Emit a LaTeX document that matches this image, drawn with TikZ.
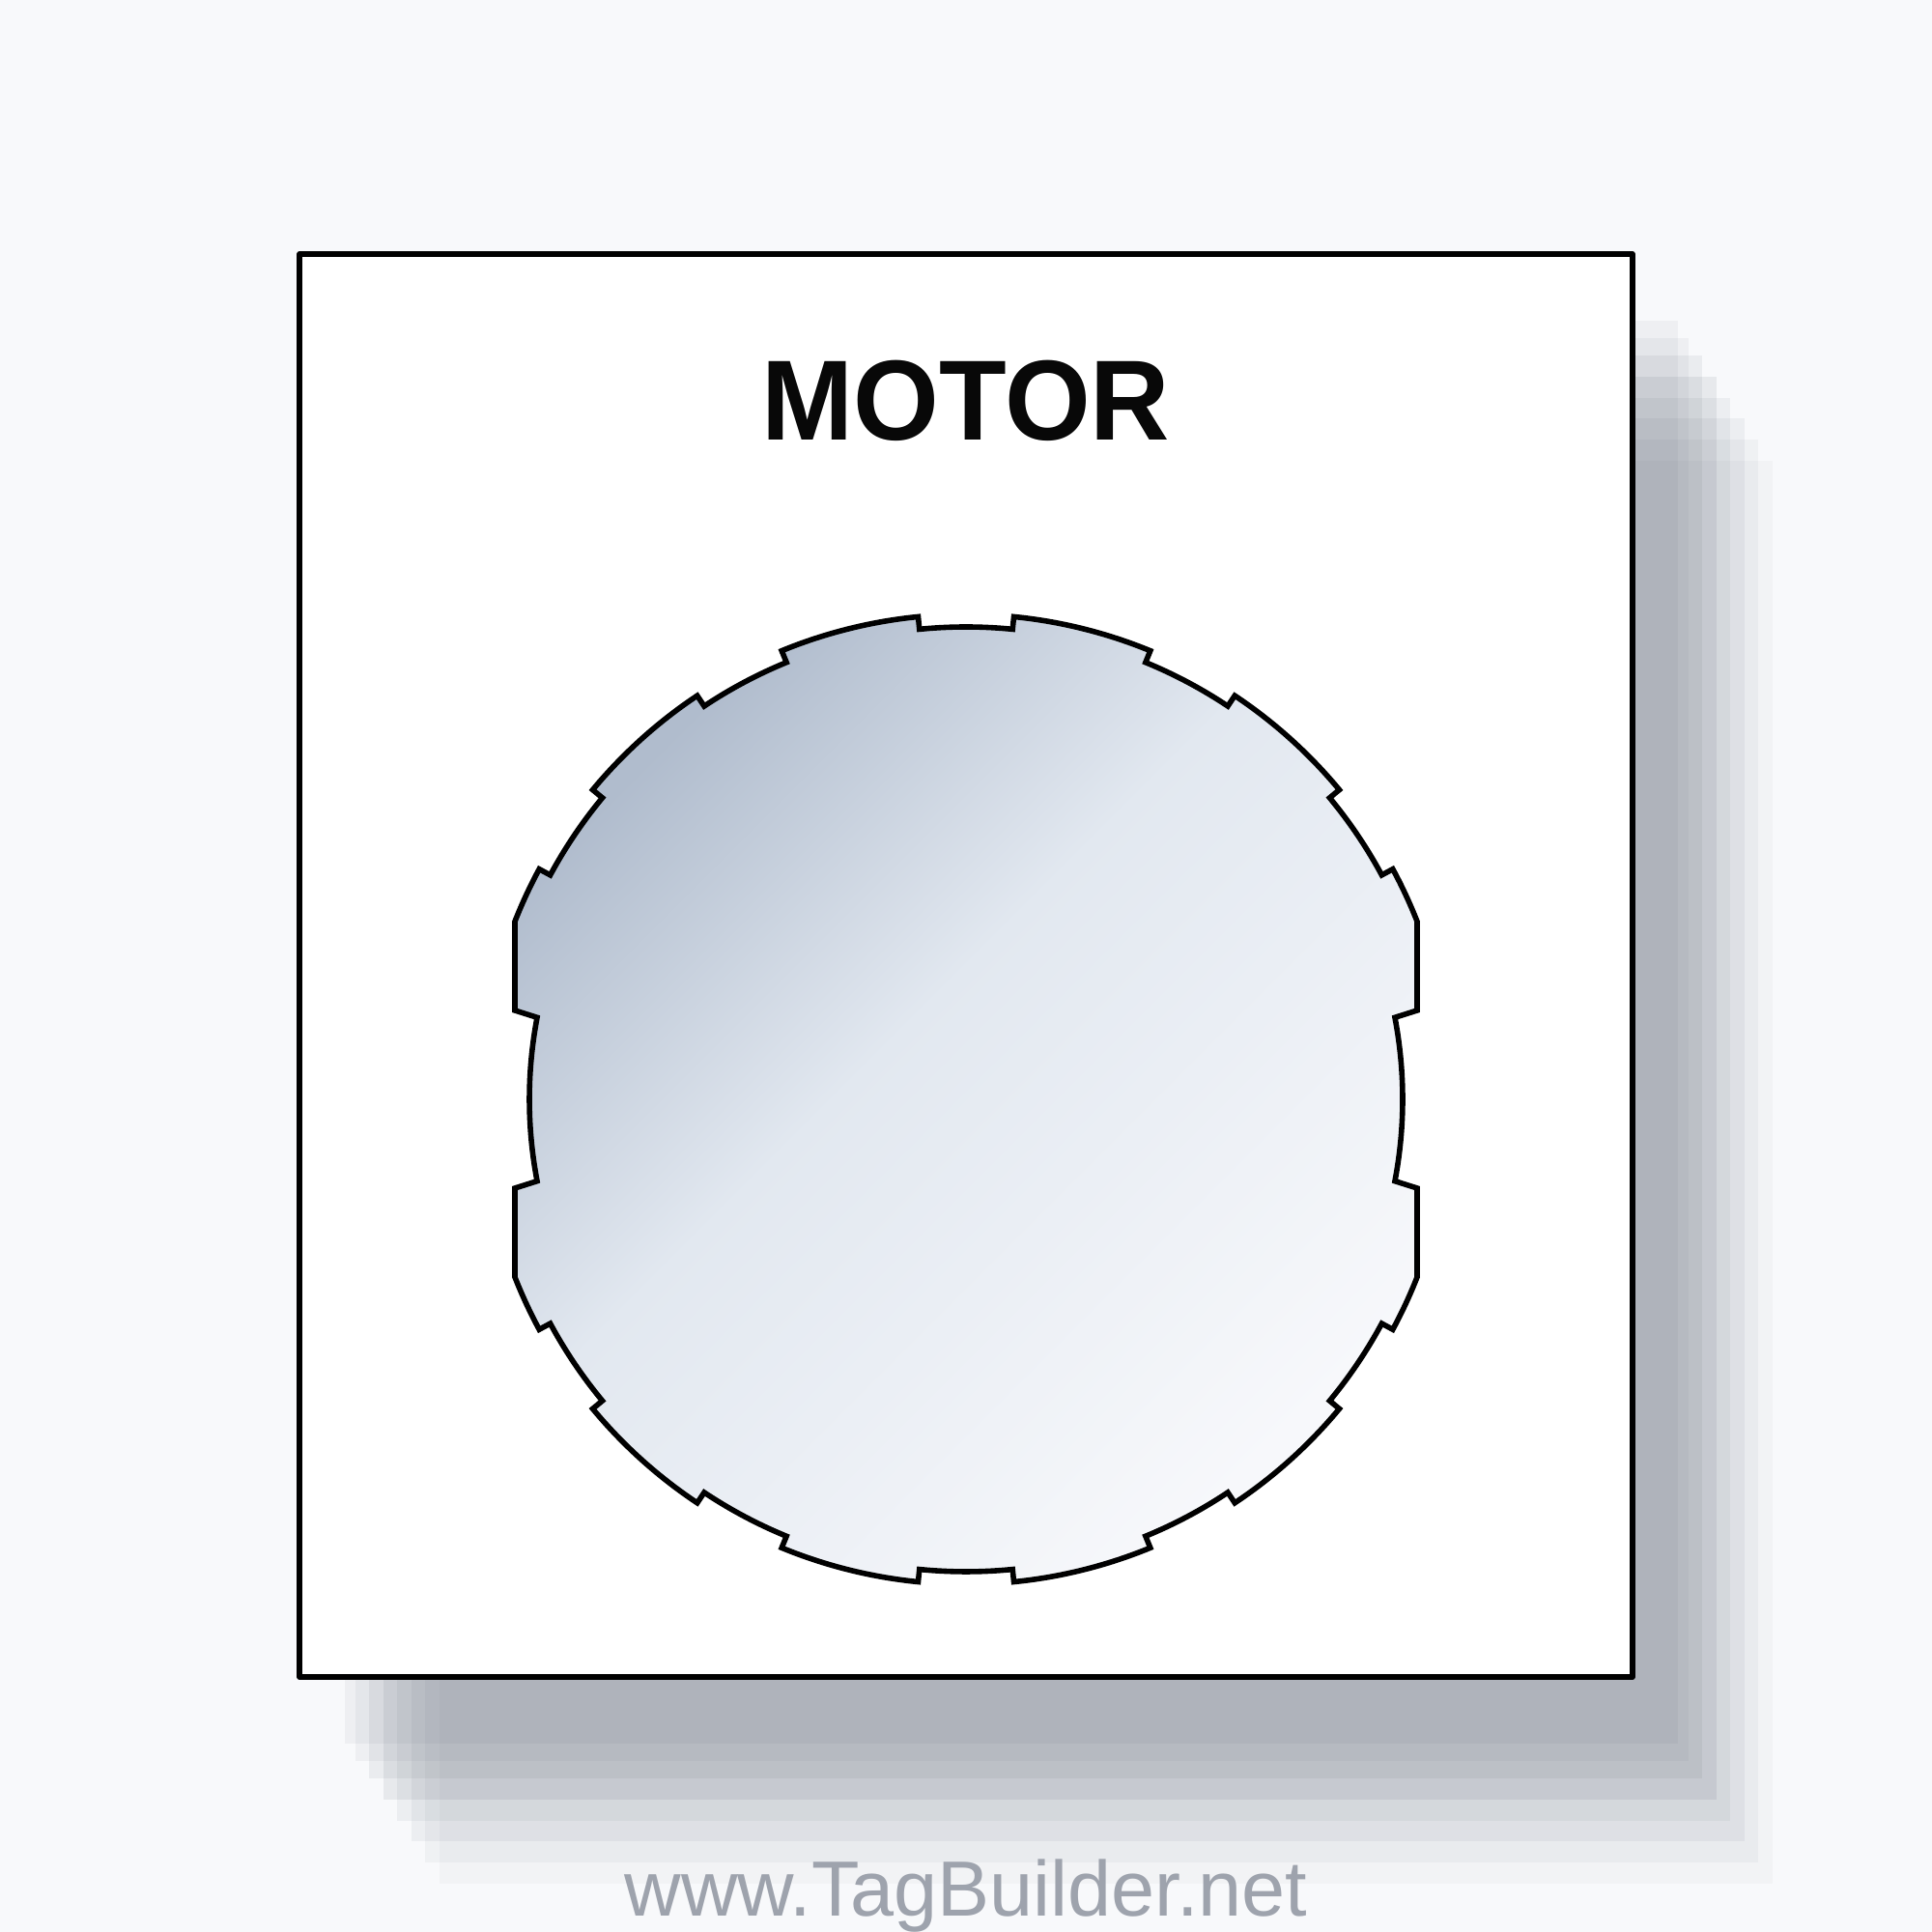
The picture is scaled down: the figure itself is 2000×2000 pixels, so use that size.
\documentclass[tikz,border=0pt]{standalone}
\usepackage{fontspec}
\setmainfont{Liberation Sans}
\definecolor{bgc}{RGB}{248,249,251}
\definecolor{shadowc}{RGB}{60,69,88}
\definecolor{gA}{RGB}{176,188,205}
\definecolor{gB}{RGB}{226,232,240}
\definecolor{gC}{RGB}{247,248,251}
\definecolor{wmc}{RGB}{158,163,173}
\pgfdeclarehorizontalshading{motorgrad}{100bp}{color(0bp)=(gA); color(25bp)=(gA); color(45bp)=(gB); color(75bp)=(gC); color(100bp)=(gC)}
\tikzset{
  panel/.style={draw=black, fill=white, line width=2.7pt, line join=round},
  layer/.style={fill=shadowc},
  motorshape/.style={draw=black, line width=2.8pt, shading=motorgrad, shading angle=-45},
  titletext/.style={font=\fontsize{59}{70}\selectfont\bfseries, text=black!97, inner sep=0pt, xscale=0.967},
  wmtext/.style={font=\fontsize{40.5}{48}\selectfont, text=wmc, inner sep=0pt}
}
\begin{document}
\begin{tikzpicture}[x=0.5pt,y=0.5pt]
\fill[bgc] (0,0) rectangle (2000,2000);
\useasboundingbox (0,0) rectangle (2000,2000);
% stacked shadow layers
\foreach \dx/\dy/\op in {47/69/0.05, 58/87/0.05, 72/105/0.07, 87/127/0.085, 101/149/0.06, 116/170/0.06, 130/192/0.045, 145/214/0.03}
  \fill[layer, opacity=\op] ({310+\dx},{264-\dy}) rectangle ({1690+\dx},{1737-\dy});
% panel
\draw[panel] (310,264) rectangle (1690,1737);
% title
\node[titletext, anchor=base] (title) at (1000,1544.3) {MOTOR};
% motor symbol
\begin{scope}[shift={(1000,862)}]
\path[motorshape] (-10.8:452) arc[start angle=-10.8, end angle=10.8, radius=452]
  -- (467,92) -- (21.52:502) arc[start angle=21.52, end angle=28.34, radius=502]
  -- (28.34:489) arc[start angle=28.34, end angle=39.66, radius=489]
  -- (39.66:502) arc[start angle=39.66, end angle=56.34, radius=502]
  -- (56.34:489) arc[start angle=56.34, end angle=67.66, radius=489]
  -- (67.66:502) arc[start angle=67.66, end angle=84.34, radius=502]
  -- (84.34:489) arc[start angle=84.34, end angle=95.66, radius=489]
  -- (95.66:502) arc[start angle=95.66, end angle=112.34, radius=502]
  -- (112.34:489) arc[start angle=112.34, end angle=123.66, radius=489]
  -- (123.66:502) arc[start angle=123.66, end angle=140.34, radius=502]
  -- (140.34:489) arc[start angle=140.34, end angle=151.66, radius=489]
  -- (151.66:502) arc[start angle=151.66, end angle=158.48, radius=502]
  -- (-467,92) -- (169.2:452) arc[start angle=169.2, end angle=190.8, radius=452]
  -- (-467,-92) -- (201.52:502) arc[start angle=201.52, end angle=208.34, radius=502]
  -- (208.34:489) arc[start angle=208.34, end angle=219.66, radius=489]
  -- (219.66:502) arc[start angle=219.66, end angle=236.34, radius=502]
  -- (236.34:489) arc[start angle=236.34, end angle=247.66, radius=489]
  -- (247.66:502) arc[start angle=247.66, end angle=264.34, radius=502]
  -- (264.34:489) arc[start angle=264.34, end angle=275.66, radius=489]
  -- (275.66:502) arc[start angle=275.66, end angle=292.34, radius=502]
  -- (292.34:489) arc[start angle=292.34, end angle=303.66, radius=489]
  -- (303.66:502) arc[start angle=303.66, end angle=320.34, radius=502]
  -- (320.34:489) arc[start angle=320.34, end angle=331.66, radius=489]
  -- (331.66:502) arc[start angle=331.66, end angle=338.48, radius=502]
  -- (467,-92) -- cycle;
\end{scope}
% watermark
\node[wmtext, anchor=base] (wm) at (1000,17) {www.TagBuilder.net};
\end{tikzpicture}
\end{document}
